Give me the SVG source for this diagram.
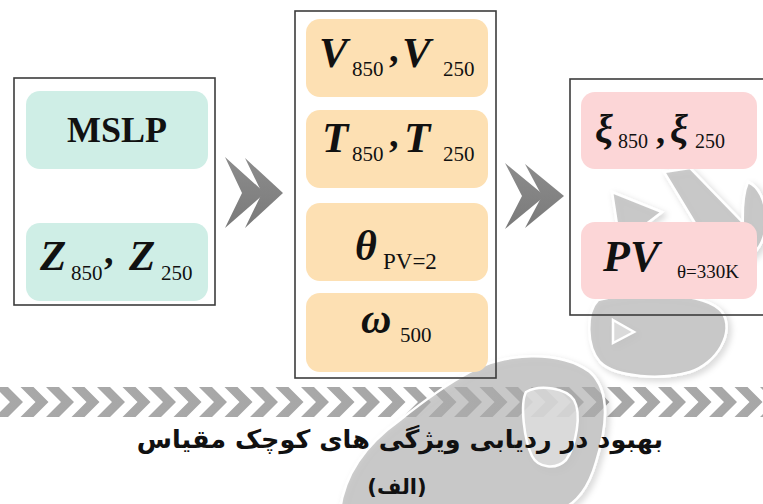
<svg xmlns="http://www.w3.org/2000/svg" xmlns:xlink="http://www.w3.org/1999/xlink" width="763" height="504" viewBox="0 0 763 504">
  <defs>
    <style>
      .frame { fill: none; stroke: #3c3c3c; stroke-width: 1.6; }
      .mint { fill: #cfeee6; }
      .peach { fill: #fde0b3; }
      .pink { fill: #fcd6d7; }
      .sym { font-family: "Liberation Serif", "Times New Roman", serif; font-weight: bold; font-style: italic; fill: #111; }
      .sub { font-family: "Liberation Serif", "Times New Roman", serif; fill: #111; }
      .lbl { font-family: "Liberation Serif", "Times New Roman", serif; font-weight: bold; fill: #111; }
      .fa { font-family: "DejaVu Sans", "Noto Sans", sans-serif; font-weight: bold; fill: #111; }
      .mark { fill: #b2b2b2; fill-opacity: 0.62; stroke: #ffffff; stroke-width: 2.5; }
      .hole { fill: #e2e2e2; fill-opacity: 0.7; stroke: #ffffff; stroke-width: 2.5; }
      .arrow { fill: url(#arrowGrad); }
    </style>
    <linearGradient id="bandGrad" gradientUnits="userSpaceOnUse" x1="0" y1="0" x2="763" y2="0">
      <stop offset="0" stop-color="#a9a9a9"/>
      <stop offset="0.5" stop-color="#888888"/>
      <stop offset="1" stop-color="#3d3d3d"/>
    </linearGradient>
    <linearGradient id="arrowGrad" x1="0" y1="0" x2="0" y2="1">
      <stop offset="0" stop-color="#8c8c8c"/>
      <stop offset="1" stop-color="#7a7a7a"/>
    </linearGradient>
    <filter id="soft" x="-10%" y="-10%" width="130%" height="130%">
      <feDropShadow dx="3" dy="3" stdDeviation="3" flood-color="#000" flood-opacity="0.2"/>
    </filter>
    <path id="chev" d="M0,387 L13,387 L28,402 L13,417 L0,417 L15,402 Z"/>
  </defs>

  <rect width="763" height="504" fill="#ffffff"/>

  <!-- chevron band across the page -->
  <g id="band" fill="url(#bandGrad)">
    <use xlink:href="#chev" x="-5"/>
    <use xlink:href="#chev" x="20.5"/>
    <use xlink:href="#chev" x="46"/>
    <use xlink:href="#chev" x="71.5"/>
    <use xlink:href="#chev" x="97"/>
    <use xlink:href="#chev" x="122.5"/>
    <use xlink:href="#chev" x="148"/>
    <use xlink:href="#chev" x="173.5"/>
    <use xlink:href="#chev" x="199"/>
    <use xlink:href="#chev" x="224.5"/>
    <use xlink:href="#chev" x="250"/>
    <use xlink:href="#chev" x="275.5"/>
    <use xlink:href="#chev" x="301"/>
    <use xlink:href="#chev" x="326.5"/>
    <use xlink:href="#chev" x="352"/>
    <use xlink:href="#chev" x="377.5"/>
    <use xlink:href="#chev" x="403"/>
    <use xlink:href="#chev" x="428.5"/>
    <use xlink:href="#chev" x="454"/>
    <use xlink:href="#chev" x="479.5"/>
    <use xlink:href="#chev" x="505"/>
    <use xlink:href="#chev" x="530.5"/>
    <use xlink:href="#chev" x="556"/>
    <use xlink:href="#chev" x="581.5"/>
    <use xlink:href="#chev" x="607"/>
    <use xlink:href="#chev" x="632.5"/>
    <use xlink:href="#chev" x="658"/>
    <use xlink:href="#chev" x="683.5"/>
    <use xlink:href="#chev" x="709"/>
    <use xlink:href="#chev" x="734.5"/>
    <use xlink:href="#chev" x="760"/>
  </g>

  <!-- faint background emblem -->
  <g id="emblem" filter="url(#soft)">
    <path class="mark" d="M470,372 C505,352 560,350 590,372 C612,392 606,430 596,462 C588,490 575,504 560,510 L340,510 C345,470 372,440 400,420 C425,400 445,385 470,372 Z"/>
    <path class="hole" d="M526,392 C540,384 566,388 574,400 C582,414 576,446 566,460 C556,470 538,468 532,456 C524,440 520,404 526,392 Z"/>
    <path class="mark" d="M598,300 C640,290 705,292 722,312 C736,332 716,364 690,372 C662,380 616,378 600,362 C586,346 586,312 598,300 Z"/>
    <path class="hole" d="M613,320 L634,332 L613,343 Z"/>
    <path class="mark" d="M664,172 L690,168 L752,232 L740,262 L716,258 Z"/>
    <path class="mark" d="M612,192 L662,212 L620,244 Z"/>
    <path class="mark" d="M748,182 C758,186 766,200 766,220 C766,236 760,250 748,258 C742,240 740,200 748,182 Z"/>
  </g>

  <!-- node frames and cells -->
  <g id="inputs">
    <rect class="frame" x="14" y="78" width="201" height="227"/>
    <g id="mslp">
      <rect class="mint" x="26" y="91" width="182" height="78" rx="14"/>
      <text class="lbl" x="117" y="142" font-size="36" text-anchor="middle">MSLP</text>
    </g>
    <g id="geopotential">
      <rect class="mint" x="26" y="223" width="182" height="78" rx="14"/>
      <text class="sym" x="40" y="270" font-size="43">Z</text>
      <text class="sub" x="71" y="280" font-size="21">850</text>
      <text class="lbl" x="104" y="264" font-size="38">,</text>
      <text class="sym" x="129" y="270" font-size="43">Z</text>
      <text class="sub" x="161" y="280" font-size="21">250</text>
    </g>
  </g>

  <g id="derived">
    <rect class="frame" x="295" y="11" width="201" height="367"/>
    <g id="wind">
      <rect class="peach" x="306" y="19" width="182" height="78" rx="14"/>
      <text class="sym" x="319" y="67" font-size="43">V</text>
      <text class="sub" x="352" y="76" font-size="21">850</text>
      <text class="lbl" x="389" y="62" font-size="38">,</text>
      <text class="sym" x="402" y="67" font-size="43">V</text>
      <text class="sub" x="443" y="76" font-size="21">250</text>
    </g>
    <g id="temperature">
      <rect class="peach" x="306" y="110" width="182" height="78" rx="14"/>
      <text class="sym" x="322" y="152" font-size="43">T</text>
      <text class="sub" x="352" y="161" font-size="21">850</text>
      <text class="lbl" x="389" y="147" font-size="38">,</text>
      <text class="sym" x="404" y="152" font-size="43">T</text>
      <text class="sub" x="443" y="161" font-size="21">250</text>
    </g>
    <g id="theta">
      <rect class="peach" x="306" y="203" width="182" height="78" rx="14"/>
      <text class="sym" x="355" y="260" font-size="42">θ</text>
      <text class="sub" x="383" y="269" font-size="23">PV=2</text>
    </g>
    <g id="omega">
      <rect class="peach" x="306" y="293" width="182" height="79" rx="14"/>
      <text class="sym" x="361" y="333" font-size="42">ω</text>
      <text class="sub" x="400" y="342" font-size="21">500</text>
    </g>
  </g>

  <g id="diagnostics">
    <rect class="frame" x="570" y="79" width="200" height="236"/>
    <g id="vorticity">
      <rect class="pink" x="581" y="92" width="176" height="77" rx="14"/>
      <text class="sym" x="595" y="142" font-size="40">ξ</text>
      <text class="sub" x="618" y="148" font-size="20">850</text>
      <text class="lbl" x="656" y="143" font-size="36">,</text>
      <text class="sym" x="670" y="142" font-size="40">ξ</text>
      <text class="sub" x="695" y="148" font-size="20">250</text>
    </g>
    <g id="pv">
      <rect class="pink" x="581" y="222" width="176" height="77" rx="14"/>
      <text class="sym" x="603" y="271" font-size="44">PV</text>
      <text class="sub" x="677" y="278" font-size="19">θ=330K</text>
    </g>
  </g>

  <!-- flow arrows between stages -->
  <g id="connectors" class="arrow">
    <path d="M225,157 L265,193 L225,228 L242,193 Z"/>
    <path d="M245,158 L283,193 L245,228 L262,193 Z"/>
    <path d="M505,163 L545,196 L505,229 L522,196 Z"/>
    <path d="M525,164 L564,196 L525,228 L542,196 Z"/>
  </g>

  <g id="caption">
    <text class="fa" x="400" y="448" font-size="25.5" text-anchor="middle" direction="rtl">بهبود در ردیابی ویژگی های کوچک مقیاس</text>
    <text class="fa" x="397" y="494" font-size="21" text-anchor="middle" direction="rtl">(الف)</text>
  </g>
</svg>
